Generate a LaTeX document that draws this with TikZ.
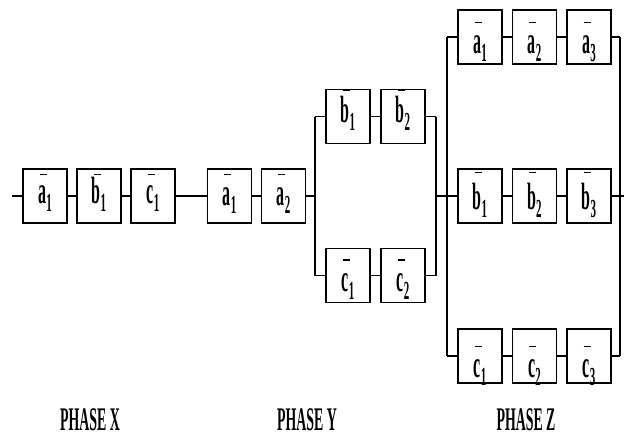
\documentclass[tikz,border=0pt]{standalone}
\usepackage{fontspec}
\setmainfont{Liberation Serif}
\newcommand\lbtext[2]{\scalebox{0.42}[1]{\fontsize{38}{38}\selectfont\bfseries #1\raisebox{-8pt}{\fontsize{26}{26}\selectfont #2}}}
\newcommand\phtext[1]{\scalebox{0.42}[1]{\fontsize{33}{33}\selectfont\bfseries #1}}
% \cell{name}{x}{y}{letter}{sub}{baseline offset}{bar offset}
\newcommand\cell[7]{%
  \node[bx] (#1) at (#2,-#3) {};
  \node[lab] (#1-l) at ([yshift=-#6pt]#1.center) {\lbtext{#4}{#5}};
  \draw[barl] ([xshift=-5.5pt,yshift=-#7pt]#1.north) -- ++(7pt,0);
}
\tikzset{
  bx/.style={draw, line width=1.2pt, minimum width=44pt, minimum height=54pt, inner sep=0pt},
  lab/.style={anchor=base, inner sep=0pt},
  barl/.style={line width=1.8pt},
  wire/.style={line width=1.8pt},
  vwire/.style={line width=1.4pt},
  ph/.style={inner sep=0pt}
}
\begin{document}
\begin{tikzpicture}[x=1pt,y=1pt]
\path[use as bounding box] (0,0) rectangle (624,-439);
% Phase X
\cell{xa1}{45}{196}{a}{1}{7}{6}
\cell{xb1}{99}{196}{b}{1}{7}{6}
\cell{xc1}{153}{196}{c}{1}{7}{6}
% Phase Y
\cell{ya1}{229.5}{196}{a}{1}{9}{6}
\cell{ya2}{283.5}{196}{a}{2}{9}{6}
\cell{yb1}{348}{116.5}{b}{1}{6}{1}
\cell{yb2}{403}{116.5}{b}{2}{6}{1}
\cell{yc1}{348}{275.5}{c}{1}{16}{12}
\cell{yc2}{403}{275.5}{c}{2}{16}{12}
% Phase Z
\cell{za1}{480}{37}{a}{1}{16}{13}
\cell{za2}{534.5}{37}{a}{2}{16}{13}
\cell{za3}{589}{37}{a}{3}{16}{13}
\cell{zb1}{480}{196}{b}{1}{13}{4}
\cell{zb2}{534.5}{196}{b}{2}{13}{4}
\cell{zb3}{589}{196}{b}{3}{13}{4}
\cell{zc1}{480}{356}{c}{1}{21}{18}
\cell{zc2}{534.5}{356}{c}{2}{21}{18}
\cell{zc3}{589}{356}{c}{3}{21}{18}
% junction coordinates
\coordinate (in) at (12,-196);
\coordinate (j1) at (315,-196);
\coordinate (jb) at (315,-116.5);
\coordinate (jc) at (315,-275.5);
\coordinate (kb) at (436,-116.5);
\coordinate (kc) at (436,-275.5);
\coordinate (k1) at (436,-196);
\coordinate (j2) at (447,-196);
\coordinate (za) at (447,-37);
\coordinate (zc) at (447,-356);
\coordinate (ra) at (620,-37);
\coordinate (rb) at (620,-196);
\coordinate (rc) at (620,-356);
\coordinate (out) at (624,-196);
% wires
\draw[wire] (in) -- (xa1);
\draw[wire] (xa1) -- (xb1);
\draw[wire] (xb1) -- (xc1);
\draw[wire] (xc1) -- (ya1);
\draw[wire] (ya1) -- (ya2);
\draw[wire] (ya2) -- (j1);
\draw[vwire] (jb) -- (jc);
\draw[wire] (jb) -- (yb1);
\draw[wire] (yb1) -- (yb2);
\draw[wire] (yb2) -- (kb);
\draw[wire] (jc) -- (yc1);
\draw[wire] (yc1) -- (yc2);
\draw[wire] (yc2) -- (kc);
\draw[vwire] (kb) -- (kc);
\draw[wire] (k1) -- (j2);
\draw[vwire] (za) -- (zc);
\draw[wire] (za) -- (za1);
\draw[wire] (za1) -- (za2);
\draw[wire] (za2) -- (za3);
\draw[wire] (za3) -- (ra);
\draw[wire] (j2) -- (zb1);
\draw[wire] (zb1) -- (zb2);
\draw[wire] (zb2) -- (zb3);
\draw[wire] (zb3) -- (rb);
\draw[wire] (zc) -- (zc1);
\draw[wire] (zc1) -- (zc2);
\draw[wire] (zc2) -- (zc3);
\draw[wire] (zc3) -- (rc);
\draw[vwire] (ra) -- (rc);
\draw[wire] (rb) -- (out);
% labels
\node[ph] (px) at (90,-420) {\phtext{PHASE X}};
\node[ph] (py) at (307,-420) {\phtext{PHASE Y}};
\node[ph] (pz) at (526,-420) {\phtext{PHASE Z}};
\end{tikzpicture}
\end{document}
